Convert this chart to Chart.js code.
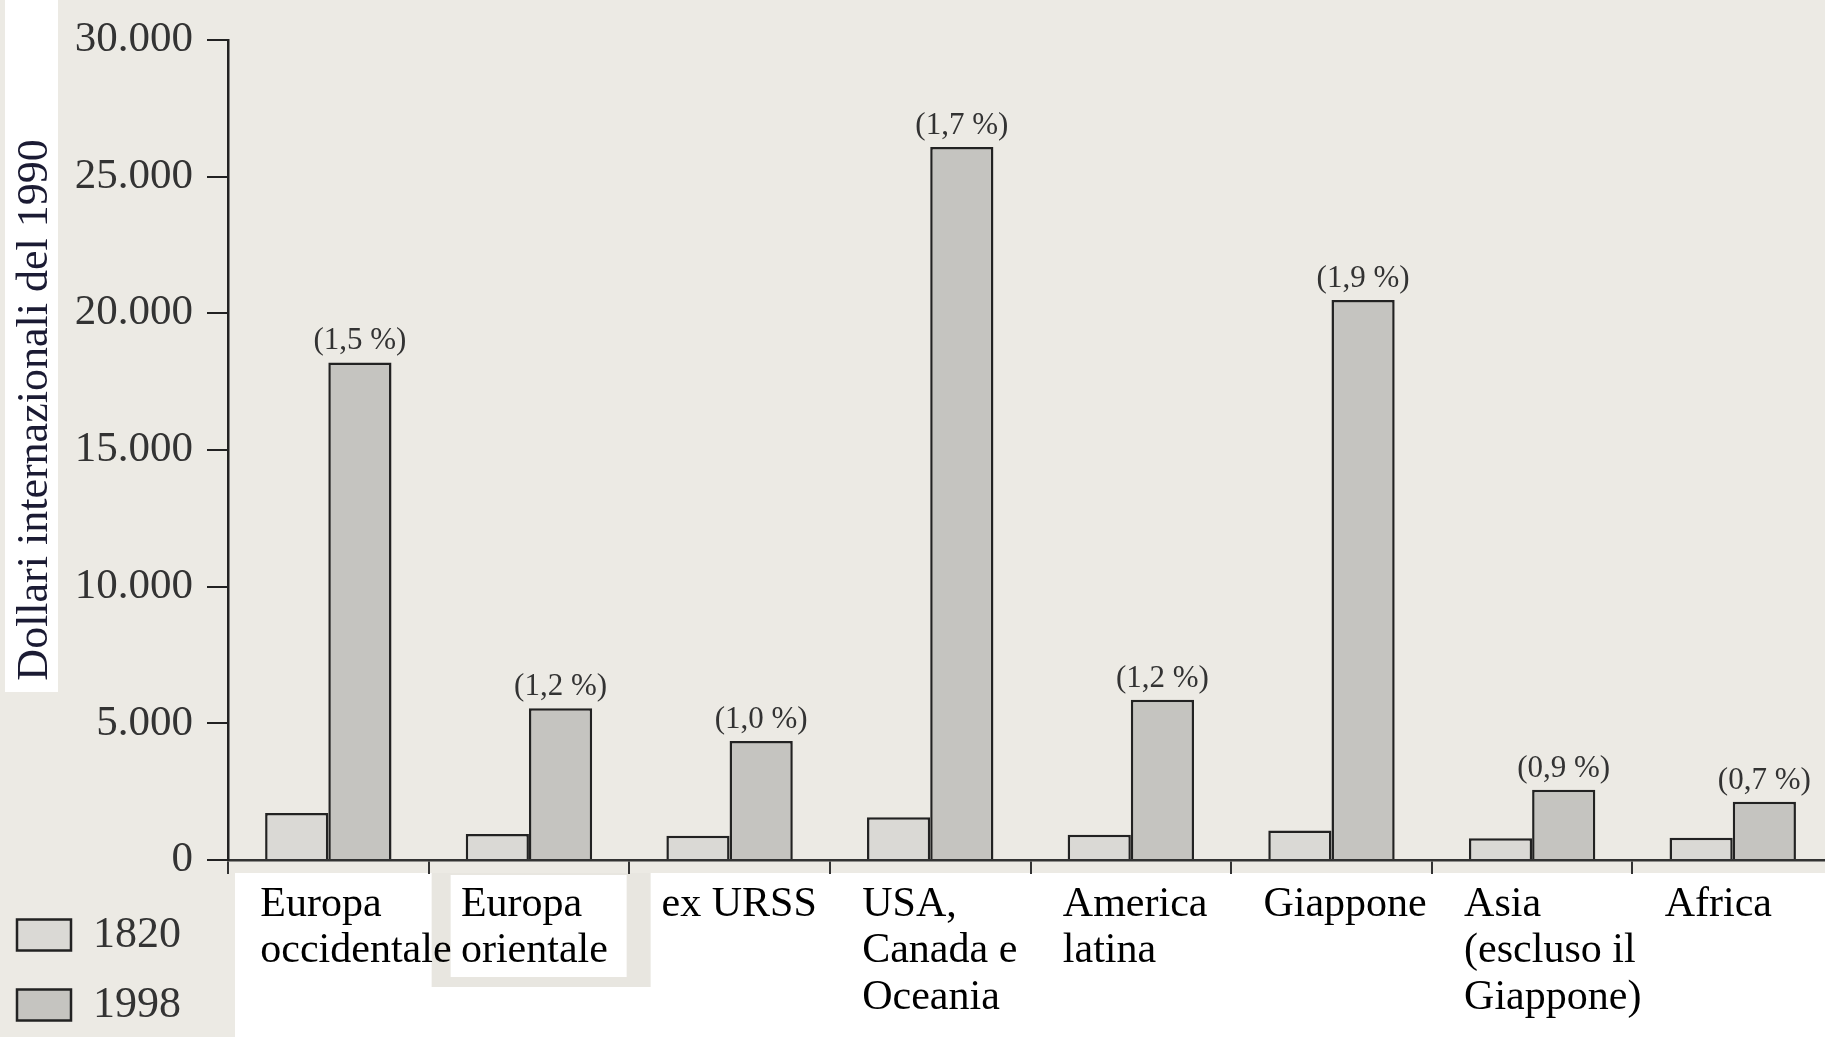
<!DOCTYPE html>
<html>
<head>
<meta charset="utf-8">
<script src="https://cdn.jsdelivr.net/npm/chart.js@4.4.1/dist/chart.umd.min.js"></script>
<style>
  html, body { margin: 0; padding: 0; overflow: hidden; background: #eceae4; width: 1825px; height: 1037px; }
  #wrap { position: absolute; left: 0; top: 0; width: 1848px; height: 1037px; }
  #legendCanvas { position: absolute; left: -9px; top: 887px; pointer-events: none; }
</style>
</head>
<body>
<div id="wrap"><canvas id="chart"></canvas></div>
<canvas id="legendCanvas" width="500" height="180"></canvas>
<script>
// ---- data ----
const categories = [
  ['Europa', 'occidentale'],
  ['Europa', 'orientale'],
  'ex URSS',
  ['USA,', 'Canada e', 'Oceania'],
  ['America', 'latina'],
  'Giappone',
  ['Asia', '(escluso il', 'Giappone)'],
  'Africa'
];
const seriesNames = ['1820', '1998'];
const values1820 = [1720, 950, 890, 1560, 920, 1080, 800, 810];
const values1998 = [18200, 5550, 4350, 26080, 5860, 20480, 2570, 2130];
const growthRates = [1.5, 1.2, 1.0, 1.7, 1.2, 1.9, 0.9, 0.7];
const yTickValues = [0, 5000, 10000, 15000, 20000, 25000, 30000];
const yTickLabels = ['0', '5.000', '10.000', '15.000', '20.000', '25.000', '30.000'];
const yAxisTitle = 'Dollari internazionali del 1990';

// ---- styles ----
const SERIF = "'Liberation Serif', 'DejaVu Serif', serif";
const PAPER = '#eceae4';
const INK = '#222222';
const COLORS = ['#dad9d5', '#c5c4c0'];

const growthLabels = growthRates.map(v => '(' + v.toFixed(1).replace('.', ',') + ' %)');

const paperPlugin = {
  id: 'paper',
  beforeDraw(chart) {
    const { ctx, chartArea: a, width, height } = chart;
    const xs = chart.scales.x;
    ctx.save();
    ctx.fillStyle = PAPER;
    ctx.fillRect(0, 0, width, height);
    ctx.fillStyle = '#ffffff';
    // strip behind the axis title
    ctx.fillRect(5, 0, 53, 692);
    // band behind the category labels
    ctx.fillRect(a.left + 7, a.bottom + 13, width, height);
    // pasted box around the second category label
    const b1 = (xs.getPixelForValue(0) + xs.getPixelForValue(1)) / 2;
    ctx.fillStyle = '#e8e6e0';
    ctx.fillRect(b1 + 3, a.bottom + 13, 219, 114);
    ctx.fillStyle = '#ffffff';
    ctx.fillRect(b1 + 22, a.bottom + 15, 176, 102);
    ctx.restore();
  },
  afterDraw(chart) {
    // rotated axis title, in the pasted strip at the left
    const { ctx } = chart;
    ctx.save();
    ctx.translate(35, 410);
    ctx.rotate(-Math.PI / 2);
    ctx.font = '44px ' + SERIF;
    ctx.fillStyle = '#1b1b33';
    ctx.textAlign = 'center';
    ctx.textBaseline = 'middle';
    ctx.fillText(yAxisTitle, 0, 0);
    ctx.restore();
  }
};

const growthPlugin = {
  id: 'growth',
  afterDatasetsDraw(chart) {
    const { ctx } = chart;
    const meta = chart.getDatasetMeta(1);
    ctx.save();
    ctx.font = '31px ' + SERIF;
    ctx.fillStyle = '#333333';
    ctx.textAlign = 'center';
    ctx.textBaseline = 'alphabetic';
    meta.data.forEach((bar, i) => {
      ctx.fillText(growthLabels[i], bar.x, bar.y - 13);
    });
    ctx.restore();
  }
};

const datasets = [
  {
    label: seriesNames[0], data: values1820,
    backgroundColor: COLORS[0], borderColor: INK, borderWidth: 2.5,
    categoryPercentage: 0.63, barPercentage: 1.0
  },
  {
    label: seriesNames[1], data: values1998,
    backgroundColor: COLORS[1], borderColor: INK, borderWidth: 2.5,
    categoryPercentage: 0.63, barPercentage: 1.0
  }
];

new Chart(document.getElementById('chart'), {
  type: 'bar',
  data: { labels: categories, datasets: datasets },
  options: {
    responsive: true,
    maintainAspectRatio: false,
    animation: false,
    layout: { padding: { top: 37, left: 0, right: 0, bottom: 0 } },
    plugins: {
      legend: { display: false },
      tooltip: { enabled: false }
    },
    scales: {
      x: {
        grid: { display: true, drawOnChartArea: false, drawTicks: true, tickLength: 14, color: '#333', lineWidth: 2, offset: true },
        border: { display: true, color: '#333', width: 2.5 },
        ticks: {
          align: 'start', labelOffset: -68, padding: 8,
          color: '#000000',
          font: { family: SERIF, size: 42, lineHeight: 1.1 },
          maxRotation: 0, minRotation: 0, autoSkip: false
        },
        afterFit(scale) { scale.height = 177; }
      },
      y: {
        min: 0, max: 30000,
        ticks: {
          stepSize: 5000, padding: 14, color: '#333333',
          font: { family: SERIF, size: 43 },
          callback: (v) => yTickLabels[yTickValues.indexOf(v)]
        },
        grid: { drawOnChartArea: false, drawTicks: true, tickLength: 21, color: INK, lineWidth: 2 },
        border: { color: INK, width: 2.5 },
        title: { display: false },
        afterFit(scale) { scale.width = 228; }
      }
    }
  },
  plugins: [paperPlugin, growthPlugin]
});

// legend (same series, drawn by Chart.js's legend in a small transparent overlay chart)
new Chart(document.getElementById('legendCanvas'), {
  type: 'bar',
  data: {
    labels: [],
    datasets: datasets.map(d => ({
      label: d.label, data: [],
      backgroundColor: d.backgroundColor, borderColor: d.borderColor, borderWidth: d.borderWidth
    }))
  },
  options: {
    responsive: false,
    animation: false,
    events: [],
    layout: { padding: 0 },
    scales: { x: { display: false }, y: { display: false } },
    plugins: {
      tooltip: { enabled: false },
      legend: {
        position: 'left',
        align: 'start',
        labels: {
          boxWidth: 54, boxHeight: 31, padding: 26,
          color: '#333333',
          font: { family: SERIF, size: 44 }
        }
      }
    }
  }
});
</script>
</body>
</html>
